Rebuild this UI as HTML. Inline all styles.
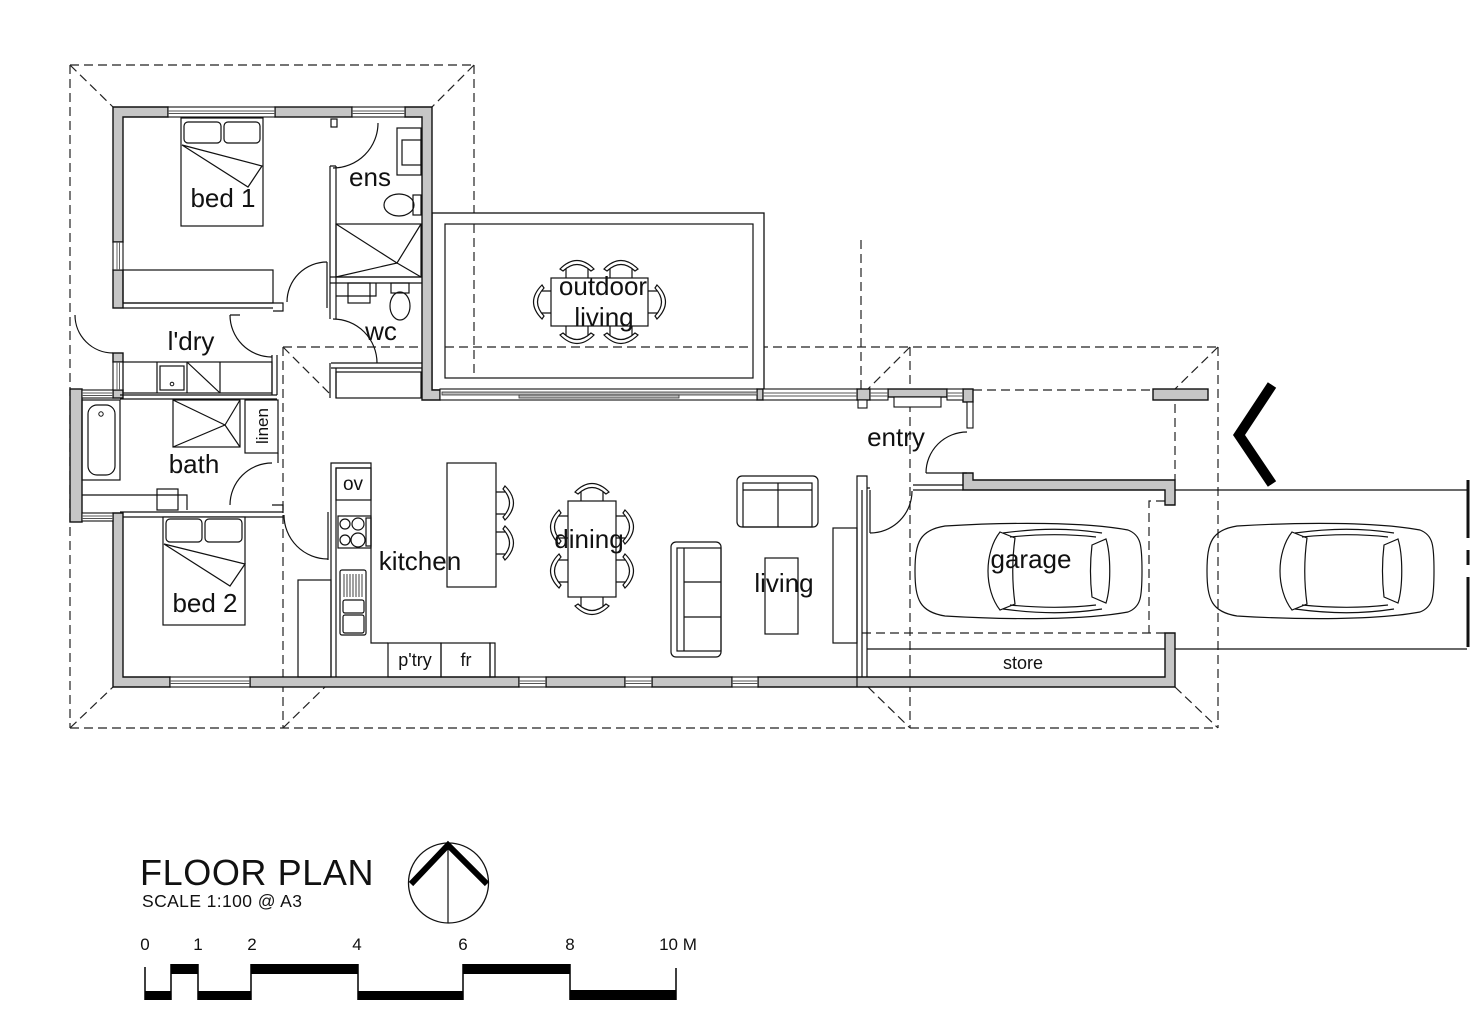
<!DOCTYPE html>
<html><head><meta charset="utf-8"><style>
html,body{margin:0;padding:0;background:#fff;}
svg{display:block;}
text{font-family:"Liberation Sans",Arial,sans-serif;fill:#111;}
</style></head><body>
<svg width="1472" height="1020" viewBox="0 0 1472 1020" xmlns="http://www.w3.org/2000/svg">
<defs>
<g id="ch"><path d="M-11 0 V-11 M11 0 V-11" fill="none" stroke="#111" stroke-width="1.2"/><path d="M-17 -9 Q0 -26 17 -9 L14 -7 Q0 -20 -14 -7 Z" fill="#fff" stroke="#111" stroke-width="1.2"/></g>
</defs>

<!-- dashed roof lines -->
<g fill="none" stroke="#222" stroke-width="1.2" stroke-dasharray="9 5">
<path d="M70 65 H474 M70 65 V728 M474 65 V390 M70 728 H1218 M283 347 H1218 M283 347 V728 M910 347 V728 M1218 347 V728"/>
<path d="M70 65 L113 107 M474 65 L432 107 M70 728 L113 687 M283 728 L325 687 M283 347 L330 394 M910 347 L868 389 M1218 347 L1175 389 M868 687 L910 728 M1175 687 L1218 728"/>
<path d="M861 240 V395 M973 390 H1153 M1175 390 V480 M1165 501 H1149 V633 M862 633 H1165"/>
</g>

<!-- driveway -->
<g stroke="#111" stroke-width="1.2" fill="none">
<path d="M1175 490 H1467 M1175 649 H1467 M867 649 H1165"/>
</g>
<path d="M1468 480 V538 M1468 550 V565 M1468 577 V647" stroke="#111" stroke-width="3" fill="none"/>

<!-- outdoor living -->
<rect x="432" y="213" width="332" height="177" fill="#fff" stroke="#111" stroke-width="1.3"/>
<rect x="445" y="224" width="308" height="154" fill="none" stroke="#111" stroke-width="1.2"/>
<path d="M474 224 V378 M445 347 H753" stroke="#222" stroke-width="1.2" stroke-dasharray="9 5" fill="none"/>

<!-- walls -->
<g fill="#c6c6c6" stroke="#111" stroke-width="1.4">
<path d="M113 107 H168 V117 H123 V242 H113 Z"/>
<rect x="275" y="107" width="77" height="10"/>
<path d="M405 107 H432 V390 H440 V400 H422 V117 H405 Z"/>
<rect x="113" y="270" width="10" height="38"/>
<rect x="113" y="353" width="10" height="9"/>
<rect x="113" y="390" width="10" height="8"/>
<rect x="70" y="389" width="12" height="133"/>
<path d="M113 513 H123 V677 H170 V687 H113 Z"/>
<rect x="250" y="677" width="269" height="10"/>
<rect x="546" y="677" width="79" height="10"/>
<rect x="652" y="677" width="80" height="10"/>
<path d="M758 677 H1165 V633 H1175 V687 H758 Z"/>
<rect x="757" y="389" width="6" height="11"/>
<rect x="857" y="389" width="13" height="11"/>
<rect x="888" y="389" width="59" height="8"/>
<rect x="963" y="389" width="10" height="13"/>
<path d="M963 473 H973 V480 H1175 V505 H1165 V490 H963 Z"/>
<rect x="1153" y="389" width="55" height="11"/>
</g>

<!-- windows -->
<g fill="#fff" stroke="#111" stroke-width="1.1">
<rect x="168" y="107" width="107" height="10"/><rect x="352" y="107" width="53" height="10"/>
<rect x="113" y="242" width="10" height="28"/><rect x="113" y="362" width="10" height="28"/>
<rect x="82" y="390" width="31" height="8"/><rect x="82" y="513" width="31" height="8"/>
<rect x="170" y="677" width="80" height="10"/><rect x="519" y="677" width="27" height="10"/>
<rect x="625" y="677" width="27" height="10"/><rect x="732" y="677" width="26" height="10"/>
<rect x="440" y="389" width="317" height="11"/><rect x="763" y="389" width="94" height="11"/>
<rect x="870" y="389" width="18" height="11"/><rect x="947" y="389" width="16" height="11"/>
<rect x="967" y="402" width="6" height="26"/>
<rect x="858" y="400" width="9" height="8"/><rect x="894" y="397" width="47" height="10"/>
</g>
<g stroke="#555" stroke-width="0.9" fill="none">
<path d="M168 111 H275 M168 113.5 H275 M352 111 H405 M352 113.5 H405 M117 242 V270 M119.5 242 V270 M117 362 V390 M119.5 362 V390 M82 393 H113 M82 395.5 H113 M82 516 H113 M82 518.5 H113 M170 681 H250 M170 683.5 H250 M519 681 H546 M519 683.5 H546 M625 681 H652 M625 683.5 H652 M732 681 H758 M732 683.5 H758 M763 393 H857 M763 396 H857 M870 393 H888 M870 396 H888 M947 393 H963 M947 396 H963"/>
</g>
<rect x="442" y="392" width="315" height="3" fill="#bbb" stroke="#333" stroke-width="0.8"/>
<rect x="519" y="395" width="160" height="3" fill="#bbb" stroke="#333" stroke-width="0.8"/>

<!-- interior lines -->
<g fill="none" stroke="#111" stroke-width="1.2">
<rect x="123" y="270" width="150" height="33"/>
<path d="M123 303 H283 V311 H273 M123 308 H273"/>
<path d="M327 262 V308 M330 166 V319 M336 166 V319 M330 166 H336"/>
<rect x="331" y="119" width="6" height="8"/>
<rect x="397" y="128" width="24" height="47"/><rect x="402" y="140" width="19" height="25"/>
<ellipse cx="399" cy="205" rx="15" ry="11"/><rect x="413" y="195" width="8" height="20"/>
<rect x="336" y="224" width="85" height="53"/>
<path d="M336 224 L397 263 L421 224 M336 277 L397 263 L421 277"/>
<path d="M330 277 H422 M330 283 H422"/>
<rect x="348" y="283" width="22" height="20"/><path d="M336 296 H376 V283"/>
<rect x="391" y="283" width="18" height="10"/><ellipse cx="400" cy="306" rx="10" ry="14"/>
<path d="M331 363 H422 M331 368 H422 M330 363 V398 M336 368 V398"/>
<rect x="336" y="372" width="85" height="26"/>
<rect x="123" y="362" width="149" height="31"/>
<path d="M157 362 V393 M187 362 V393 M220 362 V393 M187 362 L220 393"/>
<rect x="160" y="366" width="24" height="24"/>
<path d="M272 355 V395 M277 355 V395 M120 395 H277 M120 399 H277"/>
<rect x="82" y="400" width="38" height="80"/><rect x="88" y="405" width="27" height="70" rx="9"/>
<path d="M82 495 H187 V510"/><rect x="157" y="489" width="21" height="21"/>
<rect x="173" y="400" width="67" height="47"/>
<path d="M173 400 L225 425 L240 400 M173 447 L225 425 L240 447"/>
<rect x="245" y="400" width="33" height="53"/>
<path d="M278 453 V463 M272 505 H283 V513 M120 512 H283 M123 517 H283"/>
<path d="M328 512 V560"/>
<path d="M378 123 A45 45 0 0 1 333 168"/>
<path d="M333 319 A44 44 0 0 1 377 363"/>
<path d="M287 302 A40 40 0 0 1 327 262"/>
<path d="M230 315 A42 42 0 0 0 272 357 M230 315 H240"/>
<path d="M75 315 A38 38 0 0 0 113 353"/>
<path d="M230 505 A42 42 0 0 1 272 463"/>
<path d="M284 515 A44 44 0 0 0 328 559"/>
<path d="M926 473 A41 41 0 0 1 967 432 M926 473 H967"/>
<path d="M870 533 A42 42 0 0 0 912 491 M870 490 V533"/>
<path d="M331 677 V463 H371 V643 H388 M336 677 V468 H371"/>
<rect x="336" y="468" width="35" height="32"/>
<rect x="338" y="516" width="33" height="32"/><rect x="366" y="518" width="5" height="28"/>
<circle cx="345" cy="524" r="5"/><circle cx="358" cy="524" r="6"/><circle cx="345" cy="540" r="5"/><circle cx="358" cy="540" r="7"/>
<rect x="340" y="570" width="26" height="65" rx="2"/>
<path d="M344 574 V597 M347 574 V597 M350 574 V597 M353 574 V597 M356 574 V597 M359 574 V597 M362 574 V597" stroke-width="0.8"/>
<rect x="343" y="600" width="21" height="13" rx="2"/><rect x="343" y="615" width="21" height="18" rx="2"/>
<rect x="298" y="580" width="33" height="97"/>
<rect x="388" y="643" width="53" height="34"/><rect x="441" y="643" width="49" height="34"/><rect x="490" y="643" width="5" height="34"/>
<rect x="447" y="463" width="49" height="124"/>
<rect x="568" y="501" width="48" height="96"/>
<rect x="551" y="278" width="97" height="48"/>
<rect x="671" y="542" width="50" height="115" rx="5"/>
<rect x="677" y="548" width="44" height="103"/><path d="M684 548 V651 M684 582 H721 M684 617 H721"/>
<rect x="737" y="476" width="81" height="51" rx="5"/>
<rect x="743" y="483" width="69" height="44"/><path d="M743 490 H812 M778 483 V527"/>
<rect x="765" y="558" width="33" height="76"/>
<rect x="833" y="528" width="24" height="115"/>
<path d="M857 687 V476 H867 V488 H870 M867 488 V677 M862 490 V677"/>
<path d="M913 485 H963 M913 490 H963"/>
</g>

<!-- chairs -->
<use href="#ch" transform="translate(592,501)"/>
<use href="#ch" transform="translate(592,597) rotate(180)"/>
<use href="#ch" transform="translate(568,527) rotate(-90)"/>
<use href="#ch" transform="translate(568,571) rotate(-90)"/>
<use href="#ch" transform="translate(616,527) rotate(90)"/>
<use href="#ch" transform="translate(616,571) rotate(90)"/>
<use href="#ch" transform="translate(496,503) rotate(90)"/>
<use href="#ch" transform="translate(496,543) rotate(90)"/>
<use href="#ch" transform="translate(577,278)"/>
<use href="#ch" transform="translate(621,278)"/>
<use href="#ch" transform="translate(577,326) rotate(180)"/>
<use href="#ch" transform="translate(621,326) rotate(180)"/>
<use href="#ch" transform="translate(551,302) rotate(-90)"/>
<use href="#ch" transform="translate(648,302) rotate(90)"/>

<!-- beds -->
<g fill="#fff" stroke="#111" stroke-width="1.2">
<rect x="181" y="118" width="82" height="108"/>
<rect x="184" y="122" width="37" height="21" rx="4"/><rect x="224" y="122" width="36" height="21" rx="4"/>
<path d="M182 145 L262 166 L248 187 Z" fill="none"/>
<rect x="163" y="517" width="82" height="108"/>
<rect x="166" y="519" width="36" height="23" rx="4"/><rect x="205" y="519" width="37" height="23" rx="4"/>
<path d="M164 544 L245 564 L230 586 Z" fill="none"/>
</g>
<circle cx="101" cy="414" r="2.2" fill="none" stroke="#111"/>
<circle cx="172" cy="384" r="1.8" fill="none" stroke="#111"/>

<!-- cars -->
<g id="car" fill="none" stroke="#111" stroke-width="1.2">
<path d="M945 526 C1010 522 1085 522 1128 530 C1141 535 1142 545 1142 571 C1142 597 1141 607 1128 612 C1085 620 1010 620 945 616 C920 612 915 600 915 571 C915 542 920 530 945 526 Z"/>
<path d="M1000 532 L1015 538 C1012 560 1012 582 1015 604 L1000 610 C992 600 988 585 988 571 C988 557 992 542 1000 532 Z"/>
<path d="M1092 545 L1106 539 C1111 555 1111 587 1106 603 L1092 597 C1090 580 1090 562 1092 545 Z"/>
<path d="M1003 533 C1040 528 1070 528 1102 533 M1010 537 C1040 534 1070 534 1096 537 M1003 609 C1040 614 1070 614 1102 609 M1010 605 C1040 608 1070 608 1096 605"/>
</g>
<use href="#car" transform="translate(292,0)"/>

<!-- chevron -->
<polyline points="1272,385 1239,435 1272,484" fill="none" stroke="#000" stroke-width="10"/>

<!-- labels -->
<g font-size="26" text-anchor="middle">
<text x="223" y="207">bed 1</text>
<text x="370" y="186">ens</text>
<text x="381" y="340">wc</text>
<text x="191" y="350">l'dry</text>
<text x="194" y="473">bath</text>
<text x="205" y="612">bed 2</text>
<text x="420" y="570">kitchen</text>
<text x="589" y="548">dining</text>
<text x="784" y="592">living</text>
<text x="603" y="295">outdoor</text>
<text x="604" y="326">living</text>
<text x="896" y="446">entry</text>
<text x="1031" y="568">garage</text>
</g>
<g font-size="18" text-anchor="middle">
<text x="353" y="490" font-size="19">ov</text>
<text x="415" y="666">p'try</text>
<text x="466" y="666">fr</text>
<text x="1023" y="669">store</text>
<text x="268" y="426" font-size="17" transform="rotate(-90 268 426)">linen</text>
</g>

<!-- title -->
<text x="140" y="885" font-size="36" letter-spacing="0.6">FLOOR PLAN</text>
<text x="142" y="907" font-size="17.5" letter-spacing="0.4">SCALE 1:100 @ A3</text>

<!-- north arrow -->
<circle cx="448.5" cy="883" r="40" fill="none" stroke="#111" stroke-width="1.3"/>
<path d="M448 843 V923" stroke="#111" stroke-width="1.2"/>
<polyline points="411,884 448,845 487,884" fill="none" stroke="#000" stroke-width="6"/>

<!-- scale bar -->
<g font-size="17" text-anchor="middle">
<text x="145" y="950">0</text><text x="198" y="950">1</text><text x="252" y="950">2</text>
<text x="357" y="950">4</text><text x="463" y="950">6</text><text x="570" y="950">8</text>
<text x="678" y="950">10 M</text>
</g>
<g fill="#000">
<rect x="145" y="991" width="26" height="9"/><rect x="171" y="964" width="27" height="10"/>
<rect x="198" y="991" width="53" height="9"/><rect x="251" y="964" width="107" height="10"/>
<rect x="358" y="991" width="105" height="9"/><rect x="463" y="964" width="107" height="10"/>
<rect x="570" y="990" width="106" height="10"/>
</g>
<path d="M145 967 V1000 M171 964 V1000 M198 964 V1000 M251 964 V1000 M358 964 V1000 M463 964 V1000 M570 964 V1000 M676 968 V1000" stroke="#000" stroke-width="1.5"/>
</svg>
</body></html>
